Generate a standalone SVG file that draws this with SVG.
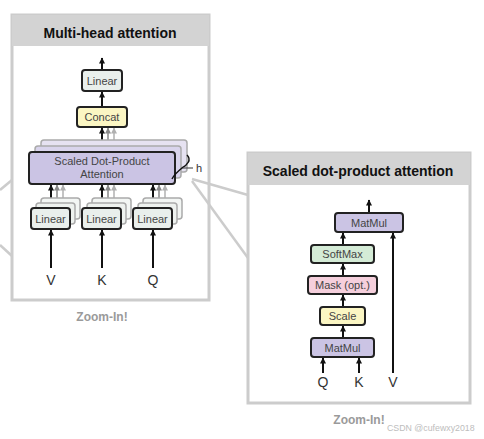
<svg xmlns="http://www.w3.org/2000/svg" width="484" height="439" viewBox="0 0 484 439">
<defs>
<marker id="ah" viewBox="0 0 10 10" refX="5" refY="1" markerWidth="6" markerHeight="7" markerUnits="userSpaceOnUse">
<path d="M0,10 L5,0 L10,10 Z" fill="#111"/>
</marker>
<marker id="ahg" viewBox="0 0 10 10" refX="5" refY="1" markerWidth="6" markerHeight="7" markerUnits="userSpaceOnUse">
<path d="M0,10 L5,0 L10,10 Z" fill="#888"/>
</marker>
<marker id="ahl" viewBox="0 0 10 10" refX="5" refY="1" markerWidth="6" markerHeight="7" markerUnits="userSpaceOnUse">
<path d="M0,10 L5,0 L10,10 Z" fill="#b0b0b0"/>
</marker>
<style>
.panel{fill:#fff;stroke:#cccccc;stroke-width:3}
.hdr{fill:#d3d3d3}
.title{font-family:"Liberation Sans",Arial,sans-serif;font-weight:bold;font-size:14px;fill:#111;text-anchor:middle}
.box{stroke:#222;stroke-width:2}
.bk{stroke:#aaa;stroke-width:1.5}
.lbl{font-family:"Liberation Sans",Arial,sans-serif;font-size:11px;fill:#444;text-anchor:middle}
.io{font-family:"Liberation Sans",Arial,sans-serif;font-size:14px;fill:#333;text-anchor:middle}
.zoom{font-family:"Liberation Sans",Arial,sans-serif;font-weight:bold;font-size:12px;fill:#9a9a9a;text-anchor:middle}
.wm{font-family:"Liberation Sans",Arial,sans-serif;font-size:8.8px;fill:#bdbdbd}
.lin{fill:#e9efec}
.yel{fill:#fbf6c3}
.pur{fill:#cbc4e4}
.grn{fill:#d4ebd6}
.pnk{fill:#f5cfdc}
.c{stroke:#111;stroke-width:2;fill:none;marker-end:url(#ah)}
.cg{stroke:#888;stroke-width:1.5;fill:none;marker-end:url(#ahg)}
.cl{stroke:#b0b0b0;stroke-width:1.5;fill:none;marker-end:url(#ahl)}
.zl{stroke:#cccccc;stroke-width:2.5;fill:none}
</style>
</defs>

<!-- left panel -->
<g id="panel-multihead">
<rect class="panel" x="12" y="15" width="197" height="285"/>
<rect class="hdr" x="12" y="15" width="197" height="31"/>
<text class="title" x="110" y="38">Multi-head attention</text>
</g>

<!-- right panel -->
<g id="panel-sdpa">
<rect class="panel" x="248" y="153" width="222" height="250"/>
<rect class="hdr" x="248" y="153" width="222" height="32"/>
<text class="title" x="358" y="176">Scaled dot-product attention</text>
</g>

<!-- zoom lines -->
<g id="zoom-lines">
<path class="zl" d="M0,190 L12,180"/>
<path class="zl" d="M0,245 L12,256"/>
<path class="zl" d="M192,179 L248,195"/>
<path class="zl" d="M192,181 L248,258"/>
</g>

<g id="connectors">
<!-- multi-head -->
<path class="c" d="M102,70 L102,58"/>
<path class="c" d="M102,107 L102,92"/>
<path class="cl" d="M114,140 L114,128"/>
<path class="cg" d="M108,146 L108,128"/>
<path class="c" d="M102,152 L102,128"/>
<path class="cl" d="M63,198 L63,185"/>
<path class="cg" d="M57,203 L57,185"/>
<path class="c" d="M51,208 L51,185"/>
<path class="cl" d="M114,198 L114,185"/>
<path class="cg" d="M108,203 L108,185"/>
<path class="c" d="M102,208 L102,185"/>
<path class="cl" d="M165,198 L165,185"/>
<path class="cg" d="M159,203 L159,185"/>
<path class="c" d="M153,208 L153,185"/>
<path class="c" d="M51,268 L51,230"/>
<path class="c" d="M102,268 L102,230"/>
<path class="c" d="M153,268 L153,230"/>
<!-- sdpa -->
<path class="c" d="M369,213 L369,200"/>
<path class="c" d="M343,245 L343,233"/>
<path class="c" d="M343,276 L343,264"/>
<path class="c" d="M343,307 L343,295"/>
<path class="c" d="M343,338 L343,326"/>
<path class="c" d="M323,373 L323,358"/>
<path class="c" d="M359,373 L359,358"/>
<path class="c" d="M393,373 L393,233"/>
</g>

<g id="linear-out">
<rect class="box lin" x="82" y="70" width="40" height="21" rx="3"/>
<text class="lbl" x="102" y="84.5">Linear</text>
</g>

<g id="concat">
<rect class="box yel" x="77" y="107" width="50" height="20" rx="3"/>
<text class="lbl" x="102" y="121">Concat</text>
</g>

<g id="sdpa-stack">
<rect class="bk" x="41" y="140" width="146" height="32" rx="3" fill="#e6e2f1"/>
<rect class="bk" x="35" y="146" width="146" height="32" rx="3" fill="#d9d4ec"/>
<rect class="box pur" x="29" y="152" width="146" height="32" rx="3"/>
<text class="lbl" x="102" y="165">Scaled Dot-Product</text>
<text class="lbl" x="102" y="178">Attention</text>
</g>

<g id="h-label">
<path d="M187,155 C192,160 187,165 182,168 C177,172 174,175 172,179" stroke="#111" stroke-width="1.5" fill="none"/>
<path d="M183,168 L193,168" stroke="#555" stroke-width="1.2"/>
<text x="196" y="172" font-family="Liberation Sans, Arial, sans-serif" font-size="11" fill="#333">h</text>
</g>

<g id="linear-v">
<rect class="bk" x="41" y="198" width="39" height="21" rx="3" fill="#f3f6f4"/>
<rect class="bk" x="36" y="203" width="39" height="21" rx="3" fill="#eef2ef"/>
<rect class="box lin" x="31" y="208" width="39" height="21" rx="3"/>
<text class="lbl" x="50.5" y="222.5">Linear</text>
</g>
<g id="linear-k">
<rect class="bk" x="92" y="198" width="39" height="21" rx="3" fill="#f3f6f4"/>
<rect class="bk" x="87" y="203" width="39" height="21" rx="3" fill="#eef2ef"/>
<rect class="box lin" x="82" y="208" width="39" height="21" rx="3"/>
<text class="lbl" x="101.5" y="222.5">Linear</text>
</g>
<g id="linear-q">
<rect class="bk" x="143" y="198" width="39" height="21" rx="3" fill="#f3f6f4"/>
<rect class="bk" x="138" y="203" width="39" height="21" rx="3" fill="#eef2ef"/>
<rect class="box lin" x="133" y="208" width="39" height="21" rx="3"/>
<text class="lbl" x="152.5" y="222.5">Linear</text>
</g>

<g id="inputs-mh">
<text class="io" x="51" y="285">V</text>
<text class="io" x="102" y="285">K</text>
<text class="io" x="153" y="285">Q</text>
</g>

<text class="zoom" x="102" y="321">Zoom-In!</text>

<g id="matmul-top">
<rect class="box pur" x="335" y="213" width="68" height="19" rx="3"/>
<text class="lbl" x="369" y="226.5">MatMul</text>
</g>
<g id="softmax">
<rect class="box grn" x="311" y="245" width="63" height="18" rx="3"/>
<text class="lbl" x="342.5" y="258">SoftMax</text>
</g>
<g id="mask">
<rect class="box pnk" x="308" y="276" width="69" height="18" rx="3"/>
<text class="lbl" x="342.5" y="289">Mask (opt.)</text>
</g>
<g id="scale">
<rect class="box yel" x="320" y="307" width="45" height="18" rx="3"/>
<text class="lbl" x="342.5" y="320">Scale</text>
</g>
<g id="matmul-bottom">
<rect class="box pur" x="311" y="338" width="63" height="19" rx="3"/>
<text class="lbl" x="342.5" y="351.5">MatMul</text>
</g>

<g id="inputs-sdpa">
<text class="io" x="323" y="387">Q</text>
<text class="io" x="359" y="387">K</text>
<text class="io" x="393" y="387">V</text>
</g>

<text class="zoom" x="359" y="424">Zoom-In!</text>
<text class="wm" x="387" y="431">CSDN @cufewxy2018</text>
</svg>
